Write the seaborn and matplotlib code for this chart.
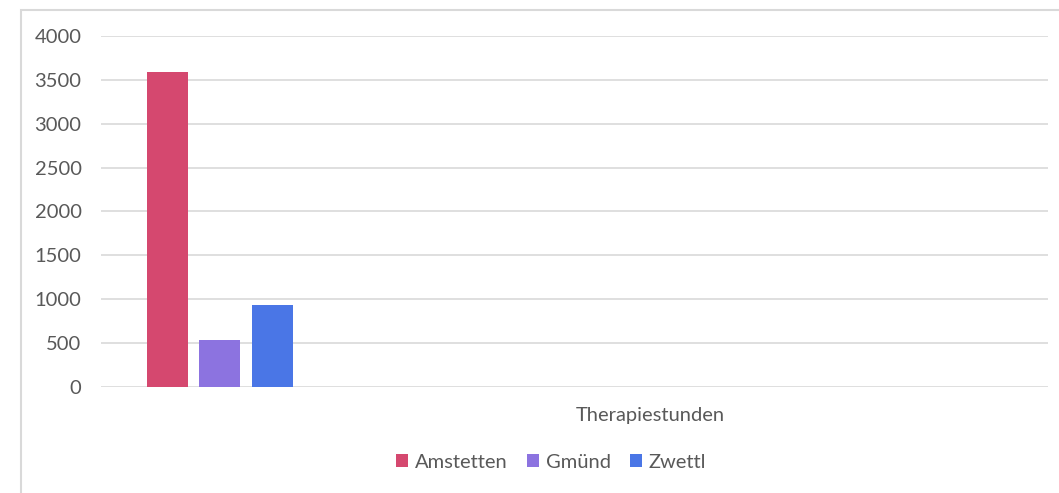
import matplotlib
matplotlib.use("Agg")
import matplotlib.pyplot as plt
import seaborn as sns
import pandas as pd
from matplotlib.patches import Rectangle

categories = ["Therapiestunden"]
regions = ["Amstetten", "Gmünd", "Zwettl"]
values = [3590, 540, 935]
colors = ["#D5486F", "#8C73E0", "#4A76E6"]
yticks = [0, 500, 1000, 1500, 2000, 2500, 3000, 3500, 4000]

df = pd.DataFrame({"Kategorie": categories * len(regions), "Region": regions, "Wert": values})

sns.set_theme(style="white")
plt.rcParams["font.family"] = ["Lato", "DejaVu Sans"]

W, H = 1059, 493
fig = plt.figure(figsize=(W / 100, H / 100), dpi=100)
ax = fig.add_axes([101 / W, 1 - 387 / H, 947 / W, 351 / H])

sns.barplot(data=df, x="Kategorie", y="Wert", hue="Region", palette=colors,
            hue_order=regions, width=0.8, gap=0.22, ax=ax, legend=False,
            saturation=1, edgecolor="none")

ax.set_ylim(0, 4000)
ax.set_yticks(yticks)
ax.set_yticklabels([str(v) for v in yticks])
ax.set_xlim(-0.603, 4.207)
ax.set_xticks([])
ax.set_xlabel("")
ax.set_ylabel("")
ax.grid(axis="y", color="#D9D9D9", linewidth=1.2)
ax.set_axisbelow(True)
for s in ax.spines.values():
    s.set_visible(False)
ax.tick_params(axis="y", length=0, pad=14, labelsize=14.5, labelcolor="#595959")

ax.text((650 - 101) / 947, -(415 - 387) / 351, categories[0], transform=ax.transAxes,
        ha="center", va="center", fontsize=14.5, color="#595959")

handles = [Rectangle((0, 0), 1, 1, facecolor=c, edgecolor="none") for c in colors]
fig.legend(handles, regions, loc="center", bbox_to_anchor=(551 / W, 1 - 462 / H),
           ncol=3, frameon=False, fontsize=14.5, labelcolor="#595959",
           handlelength=0.6, handleheight=0.6, handletextpad=0.35, columnspacing=0.95)

fig.patches.append(Rectangle((21 / W, -0.1), 1.2, 1.1 - 10 / H, transform=fig.transFigure,
                             facecolor="none", edgecolor="#D9D9D9", linewidth=1.5))

fig.savefig("out.png", dpi=100)
